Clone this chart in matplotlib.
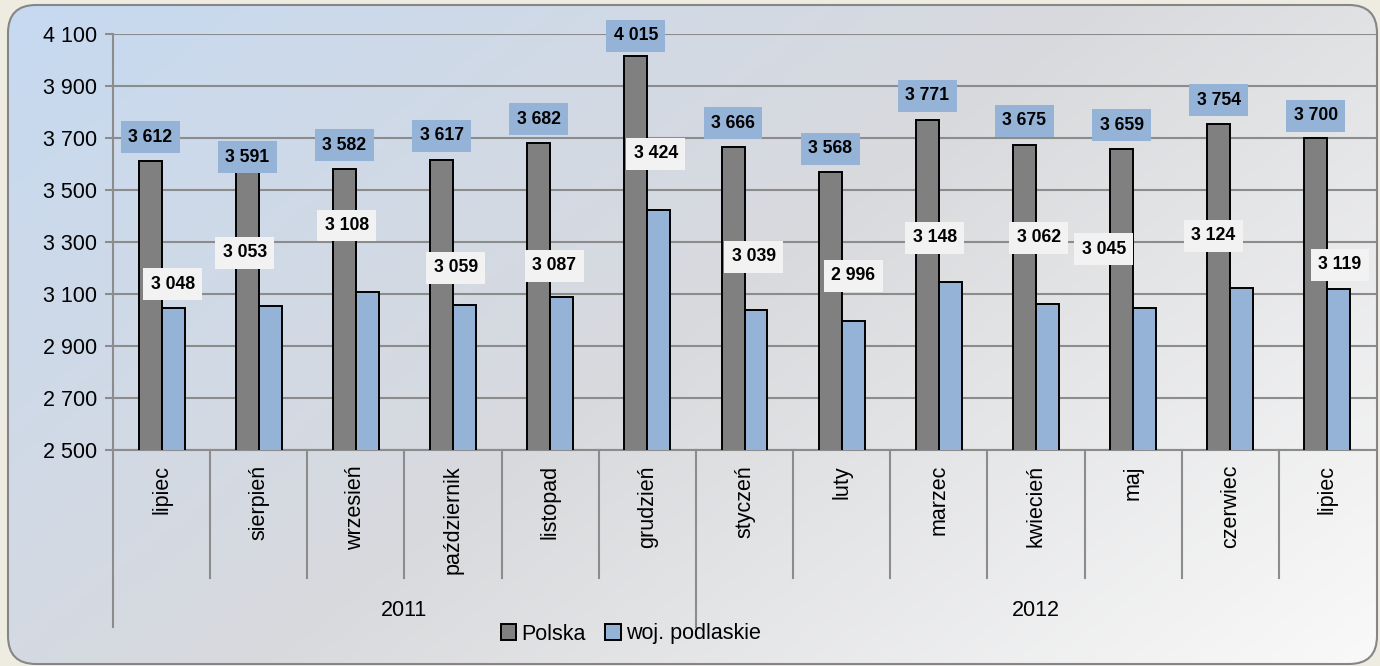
import numpy as np
import matplotlib
matplotlib.use("Agg")
import matplotlib.pyplot as plt
from matplotlib.patches import FancyBboxPatch, Patch
from matplotlib.colors import LinearSegmentedColormap
import matplotlib.transforms as mtransforms

plt.rcParams['font.family'] = ['Liberation Sans', 'DejaVu Sans']

# ---- data ----
months = ["lipiec", "sierpień", "wrzesień", "październik", "listopad", "grudzień",
          "styczeń", "luty", "marzec", "kwiecień", "maj", "czerwiec", "lipiec"]
years = ["2011", "2012"]
year_counts = [6, 7]
polska = [3612, 3591, 3582, 3617, 3682, 4015, 3666, 3568, 3771, 3675, 3659, 3754, 3700]
podlaskie = [3048, 3053, 3108, 3059, 3087, 3424, 3039, 2996, 3148, 3062, 3045, 3124, 3119]
series_names = ["Polska", "woj. podlaskie"]
yticks = [2500, 2700, 2900, 3100, 3300, 3500, 3700, 3900, 4100]

# label placement (offsets in points, styling only)
polska_lbl_dy = [17, 6.5, 17, 17, 17, 14.5, 17, 17, 17, 17, 17, 17, 16]
podl_lbl_dy = [16.8, 38.4, 47.8, 26.4, 22.6, 40.3, 38.2, 32.7, 31.5, 47.5, 42.5, 37.3, 17.6]
podl_lbl_dx = [8, -10, -6.5, 2, 3, 6, 6.5, 8.5, -3, 2, -21, -12, 9]

W, H = 1380, 666
fig = plt.figure(figsize=(W / 100, H / 100), dpi=100)
fig.patch.set_facecolor('#eeece1')

# ---- background rounded rect with gradient ----
bg = fig.add_axes([0, 0, 1, 1], zorder=-10)
bg.set_xlim(0, W)
bg.set_ylim(H, 0)
bg.axis('off')
x0, y0, x1, y1 = 8, 5, 1377, 664
nx, ny = 400, 200
xs = np.linspace(0, 1, nx)
ys = np.linspace(0, 1, ny)
XX, YY = np.meshgrid(xs, ys)
T = (0.62 * XX + 0.38 * YY)
cmap = LinearSegmentedColormap.from_list('bgc', [(0, '#c6d9f1'), (0.5, '#d9dadd'), (1.0, '#f9f9f9')])
img = bg.imshow(T, cmap=cmap, vmin=0, vmax=1, extent=(x0, x1, y1, y0), aspect='auto',
                interpolation='bilinear')
rr = FancyBboxPatch((x0, y0), x1 - x0, y1 - y0,
                    boxstyle="round,pad=0,rounding_size=28",
                    facecolor='none', edgecolor='#868686', linewidth=1.5)
bg.add_patch(rr)
img.set_clip_path(rr)

# ---- main axes ----
left, right, top, bottom = 113, 1376, 34, 450
ax = fig.add_axes([left / W, 1 - bottom / H, (right - left) / W, (bottom - top) / H])
ax.set_facecolor('none')
n = len(months)
x = np.arange(n)
bw = 0.236
gridc = '#8c8c8c'

b1 = ax.bar(x - bw / 2, polska, bw, color='#808080', edgecolor='black', linewidth=1.4, zorder=3,
            label=series_names[0])
b2 = ax.bar(x + bw / 2, podlaskie, bw, color='#95b3d7', edgecolor='black', linewidth=1.4, zorder=3,
            label=series_names[1])

ax.set_xlim(-0.5, n - 0.5)
ax.set_ylim(yticks[0], yticks[-1])
ax.set_yticks(yticks)
ax.set_yticklabels([f"{v:,}".replace(",", " ") for v in yticks], fontsize=15.5)
ax.yaxis.grid(True, color=gridc, linewidth=1.5, zorder=0)
ax.set_axisbelow(True)
ax.tick_params(axis='y', direction='out', length=5.8, width=1.5, color=gridc, pad=5.5)
ax.set_xticks([])
for s in ['top', 'right', 'left']:
    ax.spines[s].set_visible(False)
ax.spines['bottom'].set_color(gridc)
ax.spines['bottom'].set_linewidth(1.5)

trans = mtransforms.blended_transform_factory(ax.transData, ax.transAxes)
ph = bottom - top
sep_y = -(578 - bottom) / ph
year_y = -(627 - bottom) / ph

# left axis line (extends through category area)
ax.plot([-0.5, -0.5], [1, year_y], transform=trans, color=gridc, lw=1.5, clip_on=False, zorder=2)
# category separators
cum = np.cumsum(year_counts)
for k in range(1, n):
    yb = year_y if k in cum else sep_y
    ax.plot([k - 0.5, k - 0.5], [0, yb], transform=trans, color=gridc, lw=1.5, clip_on=False, zorder=2)

# category labels
lab_top = -(465 - bottom) / ph
for i, m in enumerate(months):
    ax.text(i, lab_top, m, transform=trans, rotation=90, ha='center', va='top', fontsize=15.5)

# year labels
start = 0
yl_y = -(610 - bottom) / ph
for yr, c in zip(years, year_counts):
    ax.text(start - 0.5 + c / 2, yl_y, yr, transform=trans, ha='center', va='center', fontsize=15.5)
    start += c

# value labels
def fmt(v):
    return f"{v:,}".replace(",", " ")

for i, v in enumerate(polska):
    ax.annotate(fmt(v), xy=(i - bw / 2, v), xytext=(0, polska_lbl_dy[i]), textcoords='offset points',
                ha='center', va='center', fontsize=12.7, fontweight='bold', zorder=5,
                bbox=dict(boxstyle='square,pad=0.42', facecolor='#95b3d7', edgecolor='none'))
for i, v in enumerate(podlaskie):
    ax.annotate(fmt(v), xy=(i, v), xytext=(podl_lbl_dx[i], podl_lbl_dy[i]), textcoords='offset points',
                ha='center', va='center', fontsize=12.7, fontweight='bold', zorder=5,
                bbox=dict(boxstyle='square,pad=0.42', facecolor='#f2f2f2', edgecolor='none'))

# legend
handles = [Patch(facecolor='#808080', edgecolor='black', linewidth=1.4, label=series_names[0]),
           Patch(facecolor='#95b3d7', edgecolor='black', linewidth=1.4, label=series_names[1])]
fig.legend(handles=handles, loc='center', bbox_to_anchor=(631 / W, 1 - 634 / H), ncol=2,
           frameon=False, fontsize=15.5, handlelength=0.7, handleheight=0.7,
           handletextpad=0.25, columnspacing=0.9, borderpad=0, borderaxespad=0)

fig.savefig('out.png', dpi=100, facecolor=fig.get_facecolor())
